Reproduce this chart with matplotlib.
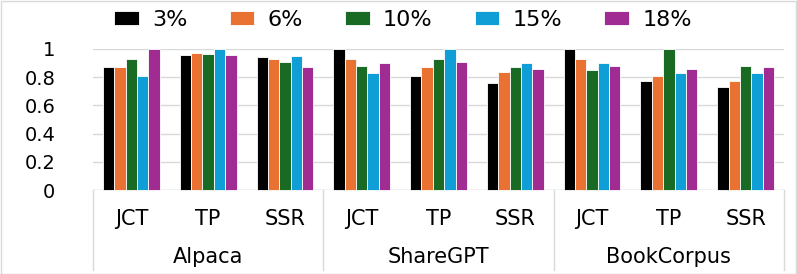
import matplotlib
matplotlib.use("Agg")
import matplotlib.pyplot as plt
import matplotlib.transforms as mtransforms
import numpy as np

plt.rcParams['font.family'] = ['DejaVu Sans']

datasets = ["Alpaca", "ShareGPT", "BookCorpus"]
metrics = ["JCT", "TP", "SSR"]
series_labels = ["3%", "6%", "10%", "15%", "18%"]
colors = ["#000000", "#E97132", "#196B24", "#0F9ED5", "#A02B93"]

# values per series, ordered Alpaca(JCT,TP,SSR), ShareGPT(...), BookCorpus(...)
s3 = [0.87, 0.96, 0.94, 1.00, 0.81, 0.76, 1.00, 0.77, 0.73]
s6 = [0.87, 0.97, 0.93, 0.93, 0.87, 0.84, 0.93, 0.81, 0.77]
s10 = [0.93, 0.965, 0.91, 0.88, 0.93, 0.87, 0.85, 1.00, 0.88]
s15 = [0.81, 1.00, 0.95, 0.83, 1.00, 0.90, 0.90, 0.83, 0.83]
s18 = [1.00, 0.955, 0.87, 0.90, 0.91, 0.86, 0.88, 0.86, 0.87]
series = [s3, s6, s10, s15, s18]

W, H = 797, 274
fig = plt.figure(figsize=(W / 100, H / 100), dpi=100)
ax = fig.add_axes([93 / W, (H - 190) / H, (784 - 93) / W, 141 / H])

n = len(datasets) * len(metrics)
x = np.arange(n) + 0.5
bw = 0.148
for i, (vals, lab, c) in enumerate(zip(series, series_labels, colors)):
    ax.bar(x + (i - 2) * bw, vals, width=bw, color=c, edgecolor="white",
           linewidth=0.6, label=lab, zorder=3, clip_on=False)

ax.set_xlim(0, n)
ax.set_ylim(0, 1)
ax.set_yticks([0, 0.2, 0.4, 0.6, 0.8, 1.0])
ax.set_yticklabels(["0", "0.2", "0.4", "0.6", "0.8", "1"], fontsize=14)
ax.tick_params(axis="y", length=0, pad=27)
ax.grid(axis="y", color="#d9d9d9", linewidth=1, zorder=0)
for s in ax.spines.values():
    s.set_visible(False)
ax.axhline(0, color="#d9d9d9", linewidth=1, zorder=1)

ax.set_xticks(x)
ax.set_xticklabels(metrics * len(datasets), fontsize=15)
ax.tick_params(axis="x", length=0, pad=14)

trans = mtransforms.blended_transform_factory(ax.transData, ax.transAxes)
sep_bottom = -80 / 141
for k in range(len(datasets) + 1):
    ax.plot([3 * k, 3 * k], [0, sep_bottom], transform=trans, color="#d9d9d9",
            linewidth=1, clip_on=False)
for k, d in enumerate(datasets):
    ax.text(3 * k + 1.5, -67 / 141, d, transform=trans, ha="center", va="center",
            fontsize=15)

ax.legend(loc="center", bbox_to_anchor=(403 / W, (H - 20) / H), bbox_transform=fig.transFigure,
          ncol=5, frameon=False, fontsize=16, handlelength=1.1, handleheight=0.6,
          handletextpad=0.6, columnspacing=1.9)

fig.patches.append(plt.Rectangle((0.5 / W, 0.5 / H), 1 - 1.5 / W, 1 - 1.5 / H,
                                 transform=fig.transFigure, fill=False,
                                 edgecolor="#d9d9d9", linewidth=1))

fig.savefig("out.png", dpi=100)
